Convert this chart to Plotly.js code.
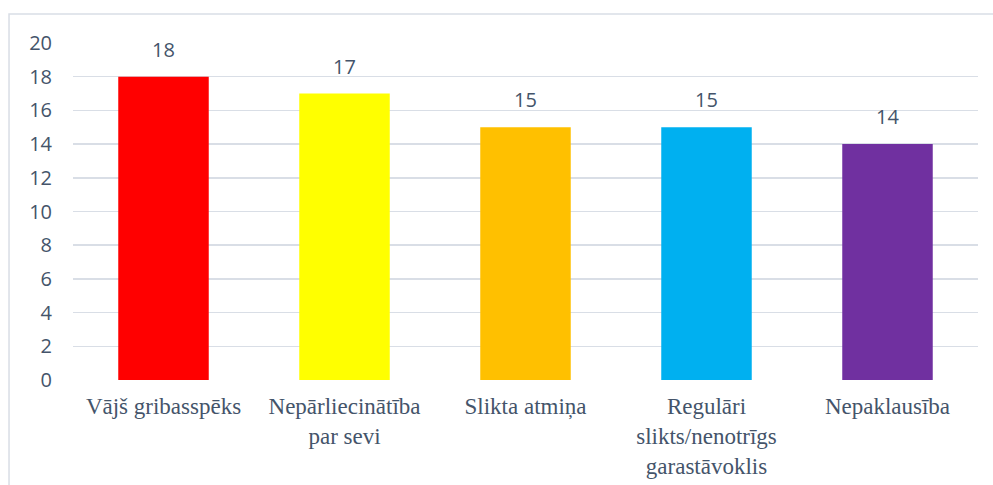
<!DOCTYPE html>
<html>
<head>
<meta charset="utf-8">
<script src="https://cdn.plot.ly/plotly-3.0.1.min.js"></script>
<style>html,body{margin:0;padding:0;background:#fff;}#chart{width:993px;height:485px;}</style>
</head>
<body>
<div id="chart"></div>
<script>
const categories = ["Vājš gribasspēks", "Nepārliecinātība<br>par sevi", "Slikta atmiņa", "Regulāri<br>slikts/nenotrīgs<br>garastāvoklis", "Nepaklausība"];
const values = [18, 17, 15, 15, 14];
const barColors = ["#FF0000", "#FFFF00", "#FFC000", "#00B0F0", "#7030A0"];
const yTicks = [0, 2, 4, 6, 8, 10, 12, 14, 16, 18, 20];

const textColor = "#44546A";
const trace = {
  type: "bar",
  x: categories,
  y: values,
  marker: {color: barColors},
  width: 0.5,
  hoverinfo: "none"
};
const annotations = categories.map((c, i) => ({
  x: c, y: values[i], xref: "x", yref: "y",
  text: String(values[i]), showarrow: false,
  yanchor: "bottom", yshift: 12,
  font: {family: "Open Sans, Liberation Sans, sans-serif", size: 20, color: textColor}
}));
const layout = {
  width: 993, height: 485,
  margin: {l: 73, r: 15, t: 43, b: 105},
  paper_bgcolor: "#ffffff", plot_bgcolor: "#ffffff",
  showlegend: false,
  bargap: 0.5,
  xaxis: {
    type: "category",
    tickfont: {family: "Liberation Serif, Times New Roman, serif", size: 23, color: textColor},
    showgrid: false, zeroline: false, showline: false, ticks: "",
    ticklabelstandoff: 10
  },
  yaxis: {
    range: [0, 20], tickvals: yTicks, ticktext: yTicks.map(String),
    tickfont: {family: "Open Sans, Liberation Sans, sans-serif", size: 20, color: textColor},
    showgrid: true, gridcolor: "#D9DEE6", gridwidth: 1.5,
    zeroline: false, showline: false, ticks: "",
    ticklabelstandoff: 20, fixedrange: true
  },
  annotations: annotations,
  shapes: [{
    type: "rect", xref: "paper", yref: "paper",
    x0: -0.0707, x1: 1.03, y0: -0.4, y1: 1.086,
    line: {color: "#D9DEE6", width: 1.5}, fillcolor: "rgba(0,0,0,0)", layer: "below"
  }]
};
Plotly.newPlot("chart", [trace], layout, {displayModeBar: false, staticPlot: true});
</script>
</body>
</html>
